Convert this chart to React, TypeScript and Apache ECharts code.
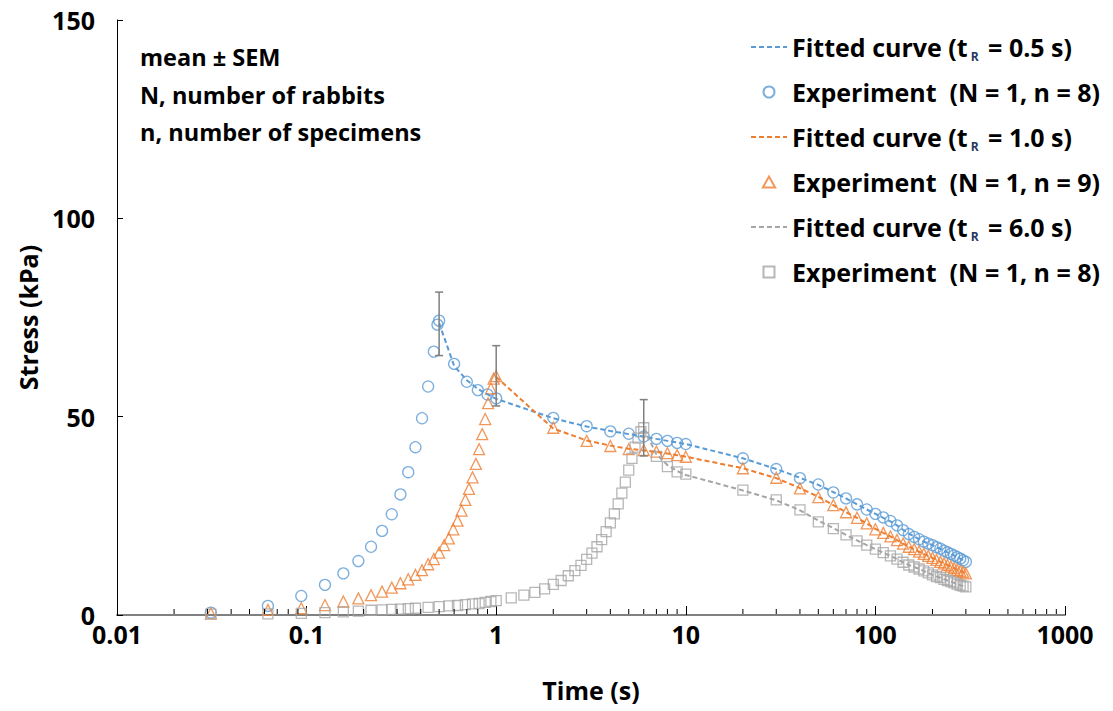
import React, { useEffect, useRef } from "react";
import * as echarts from "echarts";

// ---------- data ----------
const relaxTail = [20, 30, 40, 50, 60, 70, 80, 90, 100, 110, 120, 130, 140, 150, 160, 170, 180, 190, 200, 210, 220, 230, 240, 250, 260, 270, 280, 290, 300];

const blueExpT = [0.03125, 0.0625, 0.09375, 0.125, 0.15625, 0.1875, 0.21875, 0.25, 0.28125, 0.3125, 0.34375, 0.375, 0.40625, 0.4375, 0.46875, 0.49, 0.5,
  0.6, 0.7, 0.8, 0.9, 1, 2, 3, 4, 5, 6, 7, 8, 9, 10, ...relaxTail];
const blueExpY = [0.6, 2.3, 4.8, 7.6, 10.5, 13.6, 17.2, 21.2, 25.4, 30.4, 36.0, 42.3, 49.6, 57.6, 66.4, 73.2, 74.2,
  63.3, 58.8, 56.7, 55.6, 54.6, 49.7, 47.6, 46.3, 45.7, 45.0, 44.4, 43.9, 43.4, 43.1,
  39.5, 36.8, 34.5, 32.9, 30.9, 29.4, 27.9, 26.6, 25.5, 24.6, 23.7, 22.6, 21.4, 20.4, 19.7, 19.1, 18.5, 18.0, 17.6, 17.1, 16.7, 16.2, 15.8, 15.4, 15.0, 14.6, 14.2, 13.8, 13.4];

const blueFitT = [0.5, 0.6, 0.7, 0.8, 0.9, 1, 2, 3, 4, 5, 6, 7, 8, 9, 10, ...relaxTail];
const blueFitY = [73.6, 62.8, 59.2, 57.0, 55.6, 54.5, 49.6, 47.5, 46.4, 45.6, 45.0, 44.4, 43.9, 43.5, 43.1,
  39.5, 36.8, 34.6, 32.8, 31.0, 29.4, 27.9, 26.6, 25.5, 24.5, 23.6, 22.6, 21.5, 20.5, 19.8, 19.1, 18.5, 18.0, 17.6, 17.1, 16.7, 16.2, 15.8, 15.4, 15.0, 14.6, 14.2, 13.8, 13.4];

const orangeExpT = [0.03125, 0.0625, 0.09375, 0.125, 0.15625, 0.1875, 0.21875, 0.25, 0.28125, 0.3125, 0.34375, 0.375, 0.40625, 0.4375, 0.46875, 0.5,
  0.53125, 0.5625, 0.59375, 0.625, 0.65625, 0.6875, 0.71875, 0.75, 0.78125, 0.8125, 0.84375, 0.875, 0.90625, 0.9375, 0.96875, 1.0,
  2, 3, 4, 5, 6, 7, 8, 9, 10, ...relaxTail];
const orangeExpY = [0.4, 1.3, 1.7, 2.5, 3.4, 4.2, 5.0, 5.9, 6.9, 8.0, 9.0, 10.1, 11.3, 12.8, 14.1, 15.7,
  17.6, 19.3, 21.6, 23.8, 26.3, 29.0, 31.8, 34.7, 38.1, 41.8, 45.6, 49.4, 53.4, 57.1, 59.6, 60.2,
  47.2, 43.9, 42.6, 41.8, 41.6, 41.2, 40.8, 40.3, 39.9,
  37.0, 34.6, 31.9, 29.7, 27.7, 25.9, 24.5, 23.1, 21.6, 20.7, 19.8, 18.9, 18.0, 17.2, 16.6, 16.0, 15.4, 14.9, 14.4, 13.9, 13.4, 13.0, 12.6, 12.2, 11.8, 11.4, 11.1, 10.8, 10.5];

const orangeFitT = [1, 2, 3, 4, 5, 6, 7, 8, 9, 10, ...relaxTail];
const orangeFitY = [60.0, 47.0, 44.0, 42.7, 41.9, 41.5, 41.1, 40.7, 40.3, 39.9,
  37.0, 34.5, 32.0, 29.8, 27.7, 25.9, 24.5, 23.1, 21.7, 20.7, 19.8, 18.9, 18.0, 17.2, 16.6, 16.0, 15.4, 14.9, 14.4, 13.9, 13.4, 13.0, 12.6, 12.2, 11.8, 11.4, 11.1, 10.8, 10.5];

const greyExpT = [0.03125, 0.0625, 0.09375, 0.125, 0.15625, 0.1875, 0.21875, 0.25, 0.28125, 0.3125, 0.34375,
  0.375, 0.4375, 0.5, 0.5625, 0.625, 0.6875, 0.75, 0.8125, 0.875, 0.9375, 1.0,
  1.2, 1.4, 1.6, 1.8, 2.0, 2.2, 2.4, 2.6, 2.8, 3.0, 3.2, 3.4, 3.6, 3.8, 4.0, 4.2, 4.4, 4.6, 4.8, 5.0, 5.2, 5.4, 5.6, 5.8, 6.0,
  7, 8, 9, 10, ...relaxTail];
const greyExpY = [0.2, 0.3, 0.4, 0.6, 0.8, 1.0, 1.2, 1.3, 1.4, 1.5, 1.6,
  1.7, 1.9, 2.1, 2.3, 2.4, 2.6, 2.8, 2.9, 3.2, 3.4, 3.6,
  4.3, 5.0, 5.7, 6.6, 7.7, 8.7, 9.9, 11.2, 12.5, 14.0, 15.6, 17.2, 19.0, 21.0, 23.2, 25.5, 28.0, 30.7, 33.5, 36.5, 39.5, 42.3, 44.6, 46.2, 47.2,
  40.0, 37.4, 36.1, 35.5,
  31.5, 29.0, 26.5, 23.5, 21.8, 20.2, 18.7, 17.6, 16.6, 15.7, 14.9, 14.1, 13.3, 12.6, 12.1, 11.6, 11.1, 10.6, 10.1, 9.7, 9.4, 9.0, 8.7, 8.4, 8.1, 7.8, 7.5, 7.3, 7.1];

const greyFitT = [6, 7, 8, 9, 10, ...relaxTail];
const greyFitY = [47.0, 40.5, 37.8, 36.3, 35.3,
  31.4, 28.9, 26.4, 23.8, 21.9, 20.2, 18.8, 17.6, 16.6, 15.7, 14.9, 14.1, 13.3, 12.6, 12.1, 11.6, 11.1, 10.6, 10.1, 9.7, 9.4, 9.0, 8.7, 8.4, 8.1, 7.8, 7.5, 7.3, 7.1];

// error bars: [time, mean, SEM]
const errorBars = [
  [0.5, 73.4, 8.0],
  [1.0, 60.3, 7.6],
  [6.0, 47.2, 7.1],
];

const xTickLabels = ["0.01", "0.1", "1", "10", "100", "1000"];
const minorDecades = [0.01, 0.1, 1, 10, 100];
const minorMultipliers = [2, 3, 4, 5, 6, 7, 8, 9];

const legendNames: Record<string, string> = {
  fit1: "{a|Fitted curve (t}{s| R}{a| = 0.5 s)}",
  exp1: "{a|Experiment  (N = 1, n = 8)}",
  fit2: "{a|Fitted curve (t}{s| R}{a| = 1.0 s)}",
  exp2: "{a|Experiment  (N = 1, n = 9)}",
  fit3: "{a|Fitted curve (t}{s| R}{a| = 6.0 s)}",
  exp3: "{a|Experiment  (N = 1, n = 8)}",
};

const notes = ["mean \u00B1 SEM", "N, number of rabbits", "n, number of specimens"];

const BLUE = "#5B9BD5";
const ORANGE = "#ED7D31";
const GREY = "#A5A5A5";
const FONT = "Open Sans";

const pairs = (t: number[], y: number[]) => t.map((v, i) => [v, y[i]]);

export default function App() {
  const ref = useRef<HTMLDivElement>(null);
  useEffect(() => {
    if (!ref.current) return;
    const chart = echarts.init(ref.current, undefined, { renderer: "svg" });
    const minorTicks: number[][] = [];
    minorDecades.forEach((d) => minorMultipliers.forEach((m) => minorTicks.push([d * m, 0])));

    const scatter = (name: string, data: number[][], color: string, symbol: string, size: number) => ({
      name,
      type: "scatter",
      data,
      symbol,
      symbolSize: size,
      clip: false,
      z: 2,
      itemStyle: { color: "rgba(255,255,255,0)", borderColor: color, borderWidth: 1.3 },
    });
    const fit = (name: string, data: number[][], color: string) => ({
      name,
      type: "line",
      data,
      symbol: "none",
      showSymbol: false,
      smooth: false,
      z: 3,
      lineStyle: { color, width: 2, type: [5, 3] },
      itemStyle: { color },
    });

    const option: any = {
      animation: false,
      backgroundColor: "#fff",
      grid: { left: 117, right: 48, top: 20, bottom: 96, containLabel: false },
      xAxis: {
        type: "log",
        logBase: 10,
        min: 0.01,
        max: 1000,
        name: "Time (s)",
        nameLocation: "middle",
        nameGap: 62,
        nameTextStyle: { fontFamily: FONT, fontWeight: "bold", fontSize: 25, color: "#000" },
        axisLine: { show: true, lineStyle: { color: "#808080", width: 2 } },
        axisTick: { show: true, inside: true, length: 9, lineStyle: { color: "#000", width: 1 } },
        axisLabel: {
          margin: 6,
          fontFamily: FONT,
          fontWeight: "bold",
          fontSize: 25,
          color: "#000",
          formatter: (v: number) => xTickLabels[Math.round(Math.log10(v)) + 2] ?? "",
        },
        splitLine: { show: false },
      },
      yAxis: {
        type: "value",
        min: 0,
        max: 150,
        interval: 50,
        name: "Stress (kPa)",
        nameLocation: "middle",
        nameGap: 77,
        nameTextStyle: { fontFamily: FONT, fontWeight: "bold", fontSize: 25, color: "#000" },
        axisLine: { show: true, lineStyle: { color: "#000", width: 1 } },
        axisTick: { show: true, inside: true, length: 6, lineStyle: { color: "#000", width: 1 } },
        axisLabel: { margin: 22, fontFamily: FONT, fontWeight: "bold", fontSize: 25, color: "#000" },
        splitLine: { show: false },
      },
      legend: {
        orient: "vertical",
        left: 745,
        top: 27,
        itemWidth: 36,
        itemHeight: 11,
        itemGap: 15,
        data: [
          { name: "fit1", itemStyle: { opacity: 0 } },
          { name: "exp1", icon: "circle" },
          { name: "fit2", itemStyle: { opacity: 0 } },
          { name: "exp2", icon: "path://M5,0 L10,9 L0,9 Z" },
          { name: "fit3", itemStyle: { opacity: 0 } },
          { name: "exp3", icon: "path://M0,0 L10,0 L10,10 L0,10 Z" },
        ],
        formatter: (n: string) => legendNames[n],
        textStyle: {
          color: "#000",
          fontFamily: FONT,
          fontWeight: "bold",
          fontSize: 25,
          lineHeight: 30,
          rich: {
            a: { fontFamily: FONT, fontWeight: "bold", fontSize: 25, lineHeight: 30, color: "#000" },
            s: { fontFamily: FONT, fontWeight: "bold", fontSize: 12, lineHeight: 30, color: "#1F3864", verticalAlign: "bottom", padding: [0, 3, 0, 0] },
          },
        },
      },
      graphic: notes.map((t, i) => ({
        type: "text",
        left: 140,
        top: 45 + i * 37.5,
        style: { text: t, fontFamily: FONT, fontWeight: "bold", fontSize: 23.5, fill: "#000" },
      })),
      series: [
        scatter("exp1", pairs(blueExpT, blueExpY), BLUE, "circle", 11),
        scatter("exp2", pairs(orangeExpT, orangeExpY), ORANGE, "triangle", 11),
        scatter("exp3", pairs(greyExpT, greyExpY), GREY, "rect", 10),
        fit("fit1", pairs(blueFitT, blueFitY), BLUE),
        fit("fit2", pairs(orangeFitT, orangeFitY), ORANGE),
        fit("fit3", pairs(greyFitT, greyFitY), GREY),
        {
          type: "custom",
          name: "errorbars",
          data: errorBars,
          z: 4,
          clip: false,
          renderItem: (_p: any, api: any) => {
            const t = api.value(0), m = api.value(1), s = api.value(2);
            const hi = api.coord([t, m + s]);
            const lo = api.coord([t, m - s]);
            const w = 4;
            const st = { stroke: "#7F7F7F", lineWidth: 1.5 };
            return {
              type: "group",
              children: [
                { type: "line", shape: { x1: hi[0], y1: hi[1], x2: lo[0], y2: lo[1] }, style: st },
                { type: "line", shape: { x1: hi[0] - w, y1: hi[1], x2: hi[0] + w, y2: hi[1] }, style: st },
                { type: "line", shape: { x1: lo[0] - w, y1: lo[1], x2: lo[0] + w, y2: lo[1] }, style: st },
              ],
            };
          },
        },
        {
          type: "custom",
          name: "minorTicks",
          data: minorTicks,
          z: 5,
          clip: false,
          silent: true,
          renderItem: (_p: any, api: any) => {
            const p = api.coord([api.value(0), 0]);
            return {
              type: "line",
              shape: { x1: p[0], y1: p[1] - 1, x2: p[0], y2: p[1] - 6 },
              style: { stroke: "#000", lineWidth: 1 },
            };
          },
        },
      ],
    };
    chart.setOption(option);
    return () => chart.dispose();
  }, []);
  return <div ref={ref} style={{ position: "absolute", left: 0, top: 0, width: 1113, height: 711 }} />;
}
